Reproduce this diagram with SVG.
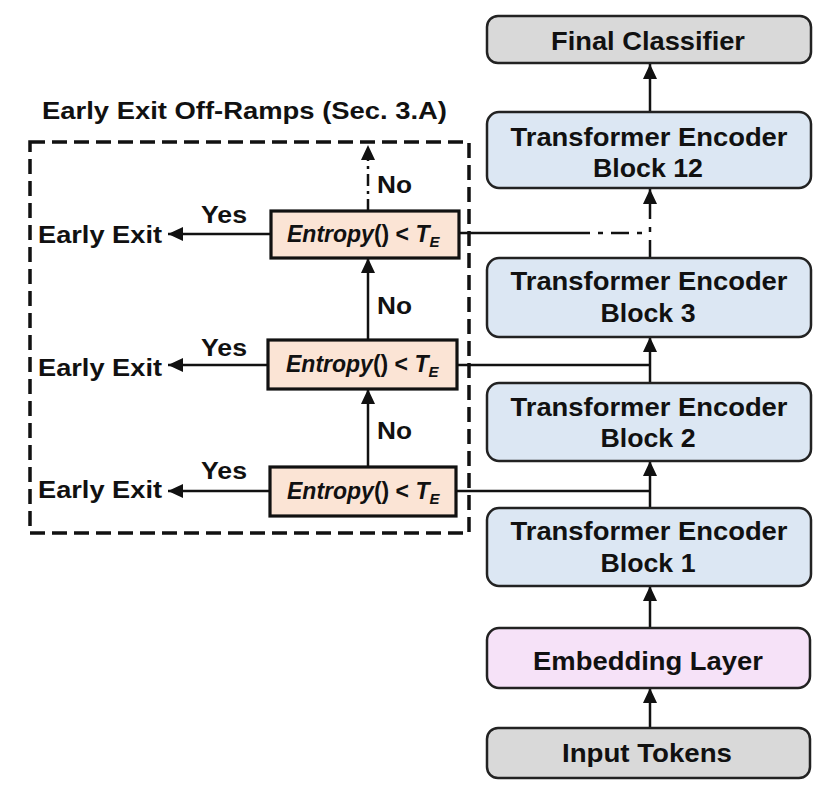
<svg xmlns="http://www.w3.org/2000/svg" width="836" height="798" viewBox="0 0 836 798">
<defs>
<style>
.t{font-family:"Liberation Sans",Arial,sans-serif;font-weight:bold;fill:#111;}
.big{font-size:25px;}
.lab{font-size:23px;}
.ent{font-size:23px;}
.gray{fill:#d9d9d9;stroke:#222;stroke-width:2.5;}
.blue{fill:#dce7f3;stroke:#222;stroke-width:2.5;}
.pink{fill:#f6e2f8;stroke:#222;stroke-width:2.5;}
.peach{fill:#fbe4d5;stroke:#111;stroke-width:3.2;}
.ln{stroke:#111;stroke-width:2.5;fill:none;}
.arr{marker-end:url(#ah);}
.dd{stroke-dasharray:18 8 5 8;}
.bd{fill:none;stroke:#111;stroke-width:3.5;stroke-dasharray:15 7;}
</style>
<marker id="ah" markerUnits="userSpaceOnUse" markerWidth="15" markerHeight="14" refX="15" refY="7" orient="auto">
<path d="M0,0 L15,7 L0,14 z" fill="#111"/>
</marker>
</defs>
<rect width="836" height="798" fill="#fff"/>

<g id="offramp-region">
<rect x="30" y="142" width="439" height="391" class="bd"/>
<text class="t lab" x="42" y="119" textLength="405" lengthAdjust="spacingAndGlyphs">Early Exit Off-Ramps (Sec. 3.A)</text>
</g>

<g id="connectors">
<line class="ln arr" x1="650" y1="111" x2="650" y2="64"/>
<line class="ln arr dd" x1="650" y1="258" x2="650" y2="189"/>
<line class="ln arr" x1="650" y1="383" x2="650" y2="337"/>
<line class="ln arr" x1="650" y1="508" x2="650" y2="461"/>
<line class="ln arr" x1="650" y1="628" x2="650" y2="586"/>
<line class="ln arr" x1="650" y1="728" x2="650" y2="688"/>
<line class="ln" x1="459" y1="233" x2="572" y2="233"/>
<line class="ln dd" x1="572" y1="233" x2="650" y2="233"/>
<line class="ln" x1="457" y1="365" x2="650" y2="365"/>
<line class="ln" x1="456" y1="491" x2="650" y2="491"/>
<line class="ln arr" x1="368" y1="211" x2="368" y2="145" style="stroke-dasharray:12 5 3 5"/>
<line class="ln arr" x1="368" y1="340" x2="368" y2="258"/>
<line class="ln arr" x1="368" y1="467" x2="368" y2="389"/>
<line class="ln arr" x1="271" y1="234" x2="168" y2="234"/>
<line class="ln arr" x1="268" y1="365" x2="168" y2="365"/>
<line class="ln arr" x1="270" y1="491" x2="168" y2="491"/>
<text class="t lab" x="377" y="193" textLength="35" lengthAdjust="spacingAndGlyphs">No</text>
<text class="t lab" x="377" y="314" textLength="35" lengthAdjust="spacingAndGlyphs">No</text>
<text class="t lab" x="377" y="439" textLength="35" lengthAdjust="spacingAndGlyphs">No</text>
<text class="t lab" x="201" y="223" textLength="46" lengthAdjust="spacingAndGlyphs">Yes</text>
<text class="t lab" x="201" y="356" textLength="46" lengthAdjust="spacingAndGlyphs">Yes</text>
<text class="t lab" x="201" y="479" textLength="46" lengthAdjust="spacingAndGlyphs">Yes</text>
</g>

<g id="exit3"><text class="t lab" x="38" y="243" textLength="124" lengthAdjust="spacingAndGlyphs">Early Exit</text></g>
<g id="exit2"><text class="t lab" x="38" y="376" textLength="124" lengthAdjust="spacingAndGlyphs">Early Exit</text></g>
<g id="exit1"><text class="t lab" x="38" y="498" textLength="124" lengthAdjust="spacingAndGlyphs">Early Exit</text></g>

<g id="entropy3">
<rect class="peach" x="271" y="211" width="188" height="47"/>
<text class="t ent" x="287" y="242"><tspan font-style="italic">Entropy</tspan>() &lt; <tspan font-style="italic">T</tspan><tspan font-style="italic" font-size="15" dy="5">E</tspan></text>
</g>
<g id="entropy2">
<rect class="peach" x="268" y="340" width="189" height="49"/>
<text class="t ent" x="286" y="372"><tspan font-style="italic">Entropy</tspan>() &lt; <tspan font-style="italic">T</tspan><tspan font-style="italic" font-size="15" dy="5">E</tspan></text>
</g>
<g id="entropy1">
<rect class="peach" x="270" y="467" width="186" height="49"/>
<text class="t ent" x="287" y="499"><tspan font-style="italic">Entropy</tspan>() &lt; <tspan font-style="italic">T</tspan><tspan font-style="italic" font-size="15" dy="5">E</tspan></text>
</g>

<g id="final-classifier">
<rect class="gray" x="487" y="16" width="324" height="47" rx="11"/>
<text class="t big" x="648" y="50" text-anchor="middle" textLength="194" lengthAdjust="spacingAndGlyphs">Final Classifier</text>
</g>
<g id="block12">
<rect class="blue" x="487" y="112" width="324" height="76" rx="12"/>
<text class="t big" x="649" y="146" text-anchor="middle" textLength="277" lengthAdjust="spacingAndGlyphs">Transformer Encoder</text>
<text class="t big" x="648" y="177" text-anchor="middle" textLength="110" lengthAdjust="spacingAndGlyphs">Block 12</text>
</g>
<g id="block3">
<rect class="blue" x="487" y="258" width="324" height="79" rx="12"/>
<text class="t big" x="649" y="290" text-anchor="middle" textLength="277" lengthAdjust="spacingAndGlyphs">Transformer Encoder</text>
<text class="t big" x="648" y="322" text-anchor="middle" textLength="95" lengthAdjust="spacingAndGlyphs">Block 3</text>
</g>
<g id="block2">
<rect class="blue" x="487" y="383" width="324" height="78" rx="12"/>
<text class="t big" x="649" y="416" text-anchor="middle" textLength="277" lengthAdjust="spacingAndGlyphs">Transformer Encoder</text>
<text class="t big" x="648" y="447" text-anchor="middle" textLength="95" lengthAdjust="spacingAndGlyphs">Block 2</text>
</g>
<g id="block1">
<rect class="blue" x="487" y="508" width="324" height="78" rx="12"/>
<text class="t big" x="649" y="540" text-anchor="middle" textLength="277" lengthAdjust="spacingAndGlyphs">Transformer Encoder</text>
<text class="t big" x="648" y="572" text-anchor="middle" textLength="95" lengthAdjust="spacingAndGlyphs">Block 1</text>
</g>
<g id="embedding">
<rect class="pink" x="487" y="628" width="323" height="60" rx="12"/>
<text class="t big" x="648" y="670" text-anchor="middle" textLength="230" lengthAdjust="spacingAndGlyphs">Embedding Layer</text>
</g>
<g id="input-tokens">
<rect class="gray" x="487" y="728" width="323" height="50" rx="11"/>
<text class="t big" x="647" y="762" text-anchor="middle" textLength="170" lengthAdjust="spacingAndGlyphs">Input Tokens</text>
</g>
</svg>
